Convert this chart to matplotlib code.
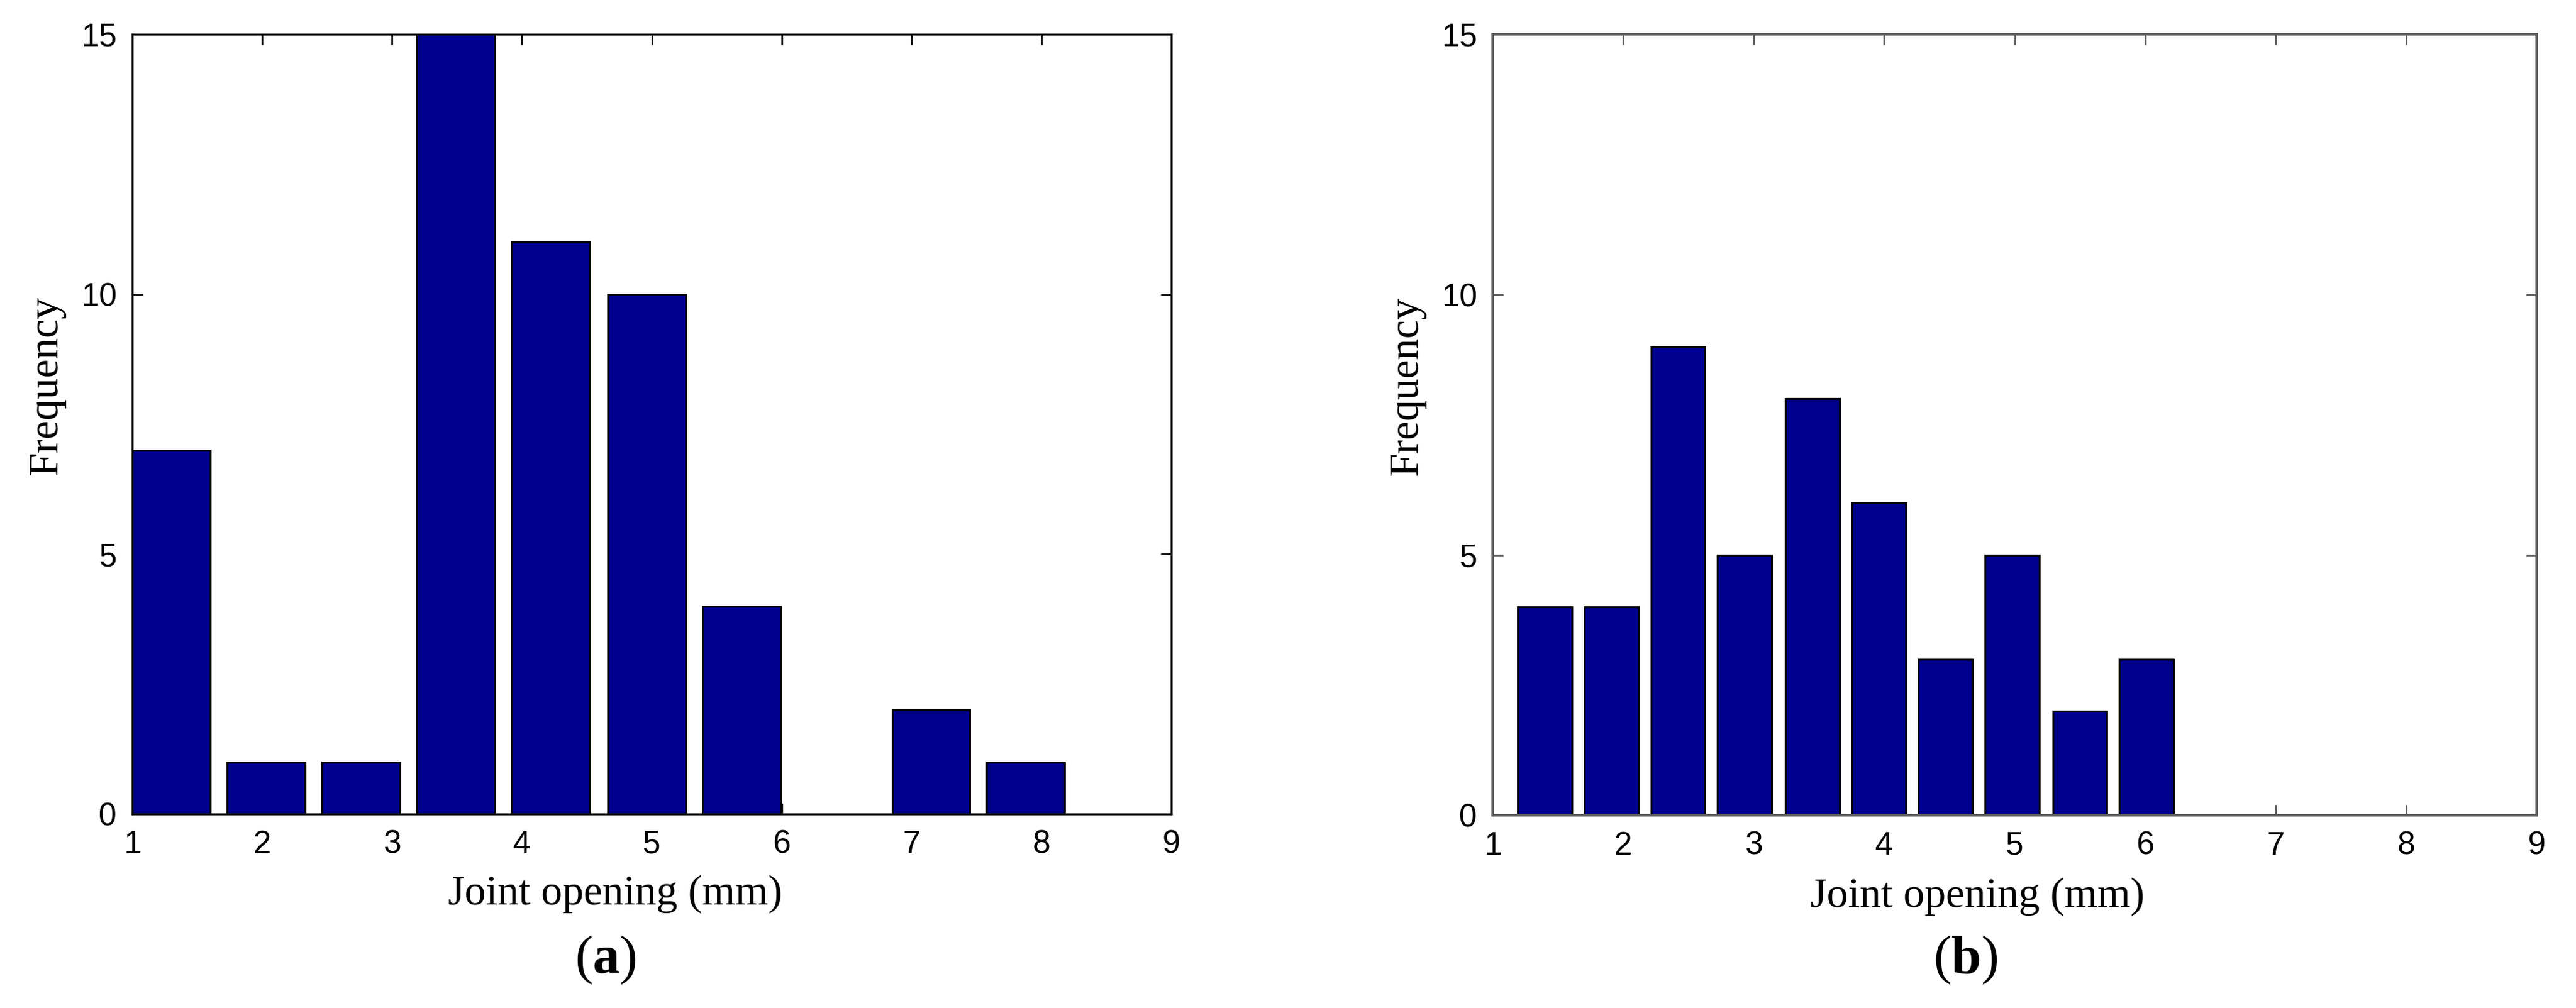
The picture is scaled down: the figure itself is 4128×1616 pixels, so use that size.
import matplotlib.pyplot as plt

# histogram (a)
a_centers = [1.30, 2.03, 2.76, 3.49, 4.22, 4.96, 5.69, 6.42, 7.15, 7.88]
a_counts = [7, 1, 1, 15, 11, 10, 4, 0, 2, 1]
a_width = 0.60

# histogram (b)
b_centers = [1.40, 1.91, 2.42, 2.93, 3.45, 3.96, 4.47, 4.98, 5.50, 6.01]
b_counts = [4, 4, 9, 5, 8, 6, 3, 5, 2, 3]
b_width = 0.415

x_ticks = [1, 2, 3, 4, 5, 6, 7, 8, 9]
y_ticks = [0, 5, 10, 15]
xlabel = 'Joint opening (mm)'
ylabel = 'Frequency'

plt.rcParams['mathtext.fontset'] = 'custom'
plt.rcParams['mathtext.rm'] = 'Liberation Serif'
plt.rcParams['mathtext.bf'] = 'Liberation Serif:bold'

W, H = 4128, 1616
fig = plt.figure(figsize=(W / 100, H / 100), dpi=100)

bar_color = '#00008f'
tick_font = 'Liberation Sans'
label_font = 'Liberation Serif'


def draw(ax, centers, counts, width, spine_color, lw):
    ax.bar(centers, counts, width=width, color=bar_color, edgecolor='black',
           linewidth=2.2, zorder=2)
    ax.set_xlim(1, 9)
    ax.set_ylim(0, 15)
    ax.set_xticks(x_ticks)
    ax.set_yticks(y_ticks)
    ax.tick_params(direction='in', length=12, width=2, top=True, right=True,
                   labelsize=37, color=spine_color, pad=18)
    for lab in ax.get_xticklabels() + ax.get_yticklabels():
        lab.set_fontfamily(tick_font)
    for s in ax.spines.values():
        s.set_color(spine_color)
        s.set_linewidth(lw)
        s.set_zorder(3)
    ax.set_ylabel(ylabel, fontsize=49, family=label_font)
    ax.yaxis.set_label_coords(-0.064, 0.549)


ax1 = fig.add_axes([212 / W, 1 - 1305 / H, 1665 / W, 1250 / H])
draw(ax1, a_centers, a_counts, a_width, '#111111', 2.4)

ax2 = fig.add_axes([2392 / W, 1 - 1307 / H, 1673 / W, 1252 / H])
draw(ax2, b_centers, b_counts, b_width, '#5a5a5a', 3.0)

# x labels and panel captions
fig.text(986 / W, 1 - 1450 / H, xlabel, fontsize=49, family=label_font,
         ha='center', va='baseline')
fig.text(3169 / W, 1 - 1454 / H, xlabel, fontsize=49, family=label_font,
         ha='center', va='baseline')
fig.text(970 / W, 1 - 1560 / H, '(' + r'$\mathbf{a}$' + ')', fontsize=62,
         family=label_font, ha='center', va='baseline')
fig.text(3150 / W, 1 - 1560 / H, '(' + r'$\mathbf{b}$' + ')', fontsize=62,
         family=label_font, ha='center', va='baseline')

fig.savefig('out.png', dpi=100, facecolor='white')
